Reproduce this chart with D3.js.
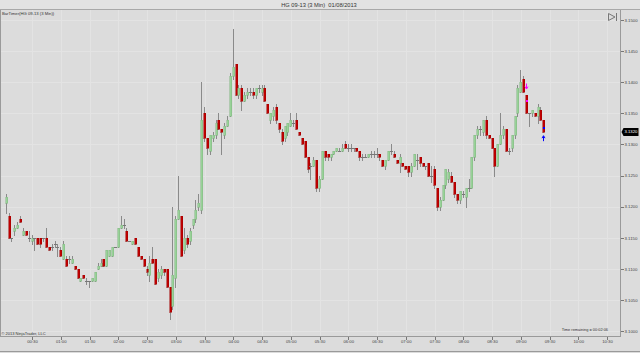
<!DOCTYPE html>
<html>
<head>
<meta charset="utf-8">
<script src="https://cdn.jsdelivr.net/npm/d3@7"></script>
<style>
  body { margin: 0; background: #dcdcdc; }
  svg { display: block; }
  text { font-family: Arial, 'Liberation Sans', sans-serif; }
</style>
</head>
<body>
<script>
// HG 09-13, 3 minute bars, first bar closes at 00:03
const barMinutes = 3;
const firstBar = new Date(2013, 7, 1, 0, 3);

const opens = [
  3.1205, 3.1185, 3.1150, 3.1160, 3.1165, 3.1180, 3.1155, 3.1160, 3.1150, 3.1145,
  3.1150, 3.1150, 3.1150, 3.1150, 3.1150, 3.1135, 3.1135, 3.1140, 3.1135, 3.1130,
  3.1115, 3.1115, 3.1115, 3.1110, 3.1105, 3.1100, 3.1080, 3.1090, 3.1080, 3.1080,
  3.1080, 3.1080, 3.1100, 3.1105, 3.1115, 3.1105, 3.1120, 3.1120, 3.1135, 3.1135,
  3.1165, 3.1170, 3.1160, 3.1145, 3.1140, 3.1150, 3.1135, 3.1120, 3.1115, 3.1100,
  3.1090, 3.1115, 3.1115, 3.1085, 3.1090, 3.1100, 3.1100, 3.1070, 3.1040, 3.1085,
  3.1180, 3.1185, 3.1130, 3.1150, 3.1145, 3.1170, 3.1180, 3.1200, 3.1195, 3.1350,
  3.1310, 3.1290, 3.1310, 3.1315, 3.1340, 3.1325, 3.1315, 3.1330, 3.1345, 3.1410,
  3.1430, 3.1380, 3.1390, 3.1370, 3.1380, 3.1385, 3.1385, 3.1380, 3.1390, 3.1385,
  3.1390, 3.1365, 3.1340, 3.1345, 3.1360, 3.1335, 3.1320, 3.1310, 3.1320, 3.1330,
  3.1335, 3.1340, 3.1320, 3.1310, 3.1305, 3.1280, 3.1265, 3.1265, 3.1275, 3.1230,
  3.1245, 3.1290, 3.1285, 3.1280, 3.1285, 3.1290, 3.1290, 3.1290, 3.1300, 3.1295,
  3.1295, 3.1295, 3.1295, 3.1290, 3.1280, 3.1280, 3.1280, 3.1285, 3.1285, 3.1285,
  3.1285, 3.1275, 3.1265, 3.1275, 3.1290, 3.1285, 3.1275, 3.1270, 3.1270, 3.1265,
  3.1265, 3.1255, 3.1265, 3.1275, 3.1280, 3.1270, 3.1265, 3.1270, 3.1250, 3.1260,
  3.1230, 3.1200, 3.1210, 3.1235, 3.1245, 3.1250, 3.1240, 3.1220, 3.1210, 3.1220,
  3.1215, 3.1230, 3.1230, 3.1280, 3.1315, 3.1325, 3.1320, 3.1340, 3.1315, 3.1310,
  3.1295, 3.1265, 3.1300, 3.1315, 3.1325, 3.1290, 3.1295, 3.1315, 3.1350, 3.1385,
  3.1405, 3.1380, 3.1350, 3.1350, 3.1350, 3.1345, 3.1355, 3.1340
];
const highs = [
  3.1220, 3.1190, 3.1150, 3.1170, 3.1175, 3.1185, 3.1165, 3.1160, 3.1160, 3.1155,
  3.1150, 3.1150, 3.1150, 3.1150, 3.1165, 3.1135, 3.1140, 3.1145, 3.1140, 3.1135,
  3.1145, 3.1120, 3.1120, 3.1120, 3.1105, 3.1100, 3.1085, 3.1090, 3.1085, 3.1080,
  3.1085, 3.1095, 3.1110, 3.1115, 3.1115, 3.1130, 3.1130, 3.1135, 3.1135, 3.1165,
  3.1185, 3.1180, 3.1165, 3.1145, 3.1145, 3.1150, 3.1135, 3.1120, 3.1115, 3.1105,
  3.1120, 3.1135, 3.1115, 3.1100, 3.1105, 3.1100, 3.1100, 3.1070, 3.1200, 3.1185,
  3.1250, 3.1185, 3.1165, 3.1155, 3.1165, 3.1180, 3.1210, 3.1220, 3.1400, 3.1360,
  3.1310, 3.1315, 3.1320, 3.1340, 3.1350, 3.1325, 3.1335, 3.1345, 3.1415, 3.1485,
  3.1430, 3.1395, 3.1395, 3.1385, 3.1390, 3.1390, 3.1390, 3.1390, 3.1395, 3.1395,
  3.1395, 3.1365, 3.1350, 3.1360, 3.1365, 3.1335, 3.1325, 3.1330, 3.1335, 3.1350,
  3.1340, 3.1350, 3.1320, 3.1310, 3.1305, 3.1280, 3.1270, 3.1280, 3.1275, 3.1250,
  3.1290, 3.1290, 3.1285, 3.1285, 3.1290, 3.1295, 3.1295, 3.1300, 3.1305, 3.1300,
  3.1300, 3.1295, 3.1295, 3.1290, 3.1285, 3.1285, 3.1285, 3.1290, 3.1290, 3.1295,
  3.1285, 3.1275, 3.1275, 3.1290, 3.1300, 3.1290, 3.1275, 3.1285, 3.1270, 3.1265,
  3.1265, 3.1270, 3.1285, 3.1285, 3.1280, 3.1270, 3.1265, 3.1270, 3.1265, 3.1265,
  3.1230, 3.1215, 3.1235, 3.1260, 3.1260, 3.1255, 3.1240, 3.1220, 3.1225, 3.1225,
  3.1230, 3.1245, 3.1280, 3.1315, 3.1330, 3.1330, 3.1340, 3.1345, 3.1315, 3.1310,
  3.1295, 3.1300, 3.1350, 3.1330, 3.1325, 3.1295, 3.1315, 3.1345, 3.1395, 3.1420,
  3.1410, 3.1380, 3.1350, 3.1355, 3.1350, 3.1365, 3.1360, 3.1340
];
const lows = [
  3.1190, 3.1150, 3.1145, 3.1155, 3.1165, 3.1175, 3.1155, 3.1155, 3.1145, 3.1140,
  3.1130, 3.1140, 3.1135, 3.1145, 3.1135, 3.1130, 3.1130, 3.1135, 3.1120, 3.1120,
  3.1115, 3.1105, 3.1110, 3.1110, 3.1100, 3.1085, 3.1080, 3.1085, 3.1075, 3.1070,
  3.1080, 3.1080, 3.1100, 3.1105, 3.1105, 3.1105, 3.1120, 3.1120, 3.1135, 3.1135,
  3.1165, 3.1165, 3.1145, 3.1145, 3.1140, 3.1140, 3.1120, 3.1115, 3.1105, 3.1090,
  3.1080, 3.1110, 3.1075, 3.1080, 3.1085, 3.1090, 3.1070, 3.1020, 3.1035, 3.1070,
  3.1180, 3.1120, 3.1125, 3.1135, 3.1140, 3.1165, 3.1175, 3.1195, 3.1190, 3.1305,
  3.1285, 3.1285, 3.1305, 3.1310, 3.1325, 3.1285, 3.1310, 3.1330, 3.1345, 3.1405,
  3.1380, 3.1375, 3.1355, 3.1370, 3.1375, 3.1380, 3.1375, 3.1375, 3.1385, 3.1380,
  3.1370, 3.1350, 3.1335, 3.1340, 3.1335, 3.1320, 3.1300, 3.1305, 3.1315, 3.1330,
  3.1330, 3.1325, 3.1315, 3.1300, 3.1280, 3.1255, 3.1245, 3.1265, 3.1225, 3.1225,
  3.1245, 3.1275, 3.1275, 3.1275, 3.1285, 3.1290, 3.1290, 3.1290, 3.1295, 3.1290,
  3.1290, 3.1290, 3.1290, 3.1275, 3.1275, 3.1280, 3.1280, 3.1280, 3.1280, 3.1280,
  3.1275, 3.1265, 3.1260, 3.1275, 3.1285, 3.1280, 3.1270, 3.1255, 3.1265, 3.1260,
  3.1250, 3.1250, 3.1265, 3.1260, 3.1265, 3.1265, 3.1260, 3.1250, 3.1240, 3.1230,
  3.1195, 3.1195, 3.1210, 3.1230, 3.1240, 3.1240, 3.1215, 3.1205, 3.1205, 3.1215,
  3.1200, 3.1225, 3.1230, 3.1275, 3.1310, 3.1315, 3.1315, 3.1310, 3.1310, 3.1295,
  3.1250, 3.1265, 3.1300, 3.1310, 3.1290, 3.1285, 3.1290, 3.1310, 3.1345, 3.1385,
  3.1385, 3.1350, 3.1330, 3.1345, 3.1345, 3.1335, 3.1340, 3.1320
];
const closes = [
  3.1215, 3.1150, 3.1150, 3.1165, 3.1170, 3.1175, 3.1160, 3.1155, 3.1150, 3.1150,
  3.1150, 3.1140, 3.1140, 3.1150, 3.1135, 3.1130, 3.1135, 3.1140, 3.1135, 3.1120,
  3.1140, 3.1105, 3.1115, 3.1115, 3.1100, 3.1085, 3.1085, 3.1085, 3.1080, 3.1080,
  3.1085, 3.1095, 3.1105, 3.1110, 3.1105, 3.1130, 3.1130, 3.1135, 3.1135, 3.1165,
  3.1170, 3.1170, 3.1145, 3.1145, 3.1145, 3.1140, 3.1120, 3.1115, 3.1105, 3.1095,
  3.1110, 3.1110, 3.1075, 3.1095, 3.1100, 3.1095, 3.1070, 3.1030, 3.1090, 3.1180,
  3.1195, 3.1120, 3.1150, 3.1140, 3.1160, 3.1180, 3.1195, 3.1205, 3.1340, 3.1310,
  3.1295, 3.1315, 3.1315, 3.1335, 3.1325, 3.1320, 3.1330, 3.1340, 3.1410, 3.1425,
  3.1380, 3.1390, 3.1370, 3.1380, 3.1385, 3.1385, 3.1380, 3.1390, 3.1390, 3.1390,
  3.1370, 3.1350, 3.1350, 3.1355, 3.1340, 3.1325, 3.1305, 3.1330, 3.1335, 3.1340,
  3.1335, 3.1325, 3.1315, 3.1300, 3.1280, 3.1260, 3.1265, 3.1275, 3.1230, 3.1245,
  3.1290, 3.1280, 3.1280, 3.1285, 3.1290, 3.1295, 3.1290, 3.1295, 3.1295, 3.1295,
  3.1295, 3.1295, 3.1290, 3.1280, 3.1280, 3.1280, 3.1285, 3.1285, 3.1285, 3.1285,
  3.1280, 3.1265, 3.1275, 3.1290, 3.1290, 3.1280, 3.1270, 3.1280, 3.1265, 3.1260,
  3.1255, 3.1265, 3.1285, 3.1275, 3.1270, 3.1265, 3.1265, 3.1250, 3.1250, 3.1235,
  3.1200, 3.1210, 3.1235, 3.1260, 3.1255, 3.1240, 3.1220, 3.1210, 3.1225, 3.1220,
  3.1230, 3.1230, 3.1280, 3.1315, 3.1325, 3.1325, 3.1340, 3.1315, 3.1310, 3.1295,
  3.1265, 3.1300, 3.1315, 3.1325, 3.1290, 3.1290, 3.1315, 3.1345, 3.1390, 3.1400,
  3.1385, 3.1350, 3.1350, 3.1355, 3.1345, 3.1360, 3.1340, 3.1320
];

const priceTicks = [3.1000, 3.1050, 3.1100, 3.1150, 3.1200, 3.1250, 3.1300, 3.1350, 3.1400, 3.1450, 3.1500];
const lastPrice = 3.1320;

// strategy markers: bar index, price, kind
const markers = [
  { bar: 181, price: 3.1393, kind: 'sellArrow' },
  { bar: 181, price: 3.1370, kind: 'sellDot' },
  { bar: 187, price: 3.1327, kind: 'buyDot' },
  { bar: 187, price: 3.1310, kind: 'buyArrow' }
];

const titleText = 'HG 09-13 (3 Min)  01/08/2013';
const indicatorText = 'BarTimer(HG 09-13 (3 Min))';
const timerText = 'Time remaining = 00:02:06';
const copyText = '\u00a9 2013 NinjaTrader, LLC';

const w = 640;
const h = 353;
const plotLeft = 0.5;
const plotRight = 620.5;
const plotTop = 9.5;
const plotBottom = 336.5;

const bars = opens.map((o, i) => ({
  time: new Date(firstBar.getTime() + i * barMinutes * 60000),
  open: o,
  high: highs[i],
  low: lows[i],
  close: closes[i]
}));

const xScale = d3
  .scaleTime()
  .domain([new Date(2013, 7, 1, 0, 30), new Date(2013, 7, 1, 10, 30)])
  .range([32, 607]);

const yScale = d3.scaleLinear().domain([3.1, 3.15]).range([331, 20]);

const svg = d3
  .select('body')
  .append('svg')
  .attr('width', w)
  .attr('height', h)
  .attr('shape-rendering', 'crispEdges');

svg.append('rect').attr('width', w).attr('height', h).attr('fill', '#dcdcdc');

// header strip
svg.append('rect').attr('width', w).attr('height', 9).attr('fill', '#e2e2e2');
svg
  .append('line')
  .attr('x1', 0)
  .attr('x2', w)
  .attr('y1', plotTop)
  .attr('y2', plotTop)
  .attr('stroke', '#a8a8a8');

svg
  .append('text')
  .attr('x', 319)
  .attr('y', 7)
  .attr('text-anchor', 'middle')
  .attr('font-size', 5.7)
  .attr('fill', '#333')
  .style('white-space', 'pre')
  .text(titleText);

svg
  .append('clipPath')
  .attr('id', 'plot')
  .append('rect')
  .attr('x', plotLeft)
  .attr('y', plotTop)
  .attr('width', plotRight - plotLeft)
  .attr('height', plotBottom - plotTop);

const plot = svg.append('g').attr('clip-path', 'url(#plot)');

// grid
const timeTicks = xScale.ticks(d3.timeMinute.every(30));
plot
  .selectAll('.vgrid')
  .data(timeTicks)
  .enter()
  .append('line')
  .attr('class', 'vgrid')
  .attr('x1', (d) => Math.round(xScale(d)) + 0.5)
  .attr('x2', (d) => Math.round(xScale(d)) + 0.5)
  .attr('y1', plotTop)
  .attr('y2', plotBottom)
  .attr('stroke', '#e3e3e3');

plot
  .selectAll('.hgrid')
  .data(priceTicks)
  .enter()
  .append('line')
  .attr('class', 'hgrid')
  .attr('x1', plotLeft)
  .attr('x2', plotRight)
  .attr('y1', (d) => Math.round(yScale(d)) + 0.5)
  .attr('y2', (d) => Math.round(yScale(d)) + 0.5)
  .attr('stroke', '#e3e3e3');

// candles
const candle = plot
  .selectAll('.bar')
  .data(bars)
  .enter()
  .append('g')
  .attr('class', 'bar');

candle
  .append('line')
  .attr('x1', (d) => Math.floor(xScale(d.time)) + 0.5)
  .attr('x2', (d) => Math.floor(xScale(d.time)) + 0.5)
  .attr('y1', (d) => Math.round(yScale(d.high)))
  .attr('y2', (d) => Math.round(yScale(d.low)) + 1)
  .attr('stroke', '#8a8a8a');

candle
  .filter((d) => d.open !== d.close)
  .append('rect')
  .attr('x', (d) => Math.floor(xScale(d.time)) - 0.5)
  .attr('y', (d) => Math.round(yScale(Math.max(d.open, d.close))))
  .attr('width', 2)
  .attr('height', (d) =>
    Math.max(1, Math.round(yScale(Math.min(d.open, d.close))) - Math.round(yScale(Math.max(d.open, d.close))))
  )
  .attr('fill', (d) => (d.close > d.open ? '#98d298' : '#c00000'))
  .attr('stroke', (d) => (d.close > d.open ? '#82b682' : '#a00000'))
  .attr('stroke-width', 0.5);

candle
  .filter((d) => d.open === d.close)
  .append('line')
  .attr('x1', (d) => Math.floor(xScale(d.time)) - 1)
  .attr('x2', (d) => Math.floor(xScale(d.time)) + 2)
  .attr('y1', (d) => Math.round(yScale(d.close)) + 0.5)
  .attr('y2', (d) => Math.round(yScale(d.close)) + 0.5)
  .attr('stroke', '#777');

// markers
markers.forEach((m) => {
  const x = Math.floor(xScale(bars[m.bar].time)) + 0.5;
  const y = yScale(m.price);
  const col = m.kind.startsWith('sell') ? '#ff00ff' : '#0000ff';
  if (m.kind.endsWith('Dot')) {
    plot.append('rect').attr('x', x - 1).attr('y', y - 1).attr('width', 2).attr('height', 2).attr('fill', col);
  } else if (m.kind === 'sellArrow') {
    plot
      .append('path')
      .attr('d', `M${x},${y - 3}V${y + 2}M${x - 1.5},${y}L${x},${y + 2.5}L${x + 1.5},${y}`)
      .attr('stroke', col)
      .attr('fill', 'none')
      .attr('shape-rendering', 'auto');
  } else {
    plot
      .append('path')
      .attr('d', `M${x},${y + 3}V${y - 2}M${x - 1.5},${y}L${x},${y - 2.5}L${x + 1.5},${y}`)
      .attr('stroke', col)
      .attr('fill', 'none')
      .attr('shape-rendering', 'auto');
  }
});

// frame
svg
  .append('path')
  .attr('d', `M${plotLeft},${plotTop}V${plotBottom}H${plotRight}V${plotTop}`)
  .attr('fill', 'none')
  .attr('stroke', '#9a9a9a');

svg
  .append('line')
  .attr('x1', 0)
  .attr('x2', w)
  .attr('y1', h - 1.5)
  .attr('y2', h - 1.5)
  .attr('stroke', '#9a9a9a');

// axes
const xAxis = d3
  .axisBottom(xScale)
  .ticks(d3.timeMinute.every(30))
  .tickFormat(d3.timeFormat('%H:%M'))
  .tickSize(3)
  .tickPadding(1);

const gx = svg
  .append('g')
  .attr('transform', 'translate(0,' + plotBottom + ')')
  .call(xAxis);
gx.select('.domain').remove();
gx.selectAll('line').attr('stroke', '#777');
gx.selectAll('text').attr('font-size', 4.2).attr('fill', '#444');

const yAxis = d3
  .axisRight(yScale)
  .tickValues(priceTicks)
  .tickFormat(d3.format('.4f'))
  .tickSize(3)
  .tickPadding(1);

const gy = svg
  .append('g')
  .attr('transform', 'translate(' + plotRight + ',0)')
  .call(yAxis);
gy.select('.domain').remove();
gy.selectAll('line').attr('stroke', '#777');
gy.selectAll('text').attr('font-size', 4.3).attr('fill', '#444');

// last price tag
const ly = yScale(lastPrice);
svg
  .append('path')
  .attr('d', `M${plotRight + 1},${ly} L${plotRight + 3},${ly - 4} H${plotRight + 18} V${ly + 4} H${plotRight + 3} Z`)
  .attr('fill', '#000')
  .attr('shape-rendering', 'auto');
svg
  .append('text')
  .attr('x', plotRight + 4)
  .attr('y', ly + 1.5)
  .attr('font-size', 4.2)
  .attr('fill', '#fff')
  .text(d3.format('.4f')(lastPrice));

// texts
svg
  .append('text')
  .attr('x', 2)
  .attr('y', 15)
  .attr('font-size', 4.2)
  .attr('fill', '#333')
  .text(indicatorText);

svg
  .append('text')
  .attr('x', 608)
  .attr('y', 330.5)
  .attr('text-anchor', 'end')
  .attr('font-size', 3.9)
  .attr('fill', '#333')
  .text(timerText);

svg
  .append('text')
  .attr('x', 1.5)
  .attr('y', 335.3)
  .attr('font-size', 4)
  .attr('fill', '#333')
  .text(copyText);

// scroll-to-end button
svg
  .append('path')
  .attr('d', 'M608.5,13.5 L615,17 L608.5,20.5 Z M616.5,13 V21')
  .attr('fill', 'none')
  .attr('stroke', '#777')
  .attr('shape-rendering', 'auto');
</script>
</body>
</html>
